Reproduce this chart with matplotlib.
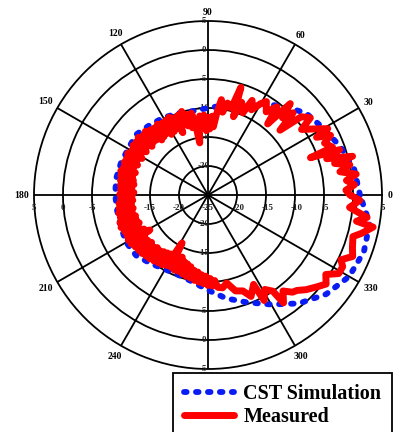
import numpy as np
import matplotlib
matplotlib.use("Agg")
import matplotlib.pyplot as plt

plt.rcParams["font.family"] = ["Liberation Serif", "DejaVu Serif"]

# CST simulated pattern (deg, dB)
cst_theta = [0, 10, 20, 30, 40, 50, 60, 70, 80, 90, 100, 110, 120, 130, 140, 150,
             160, 170, 180, 190, 200, 210, 220, 230, 240, 250, 260, 270, 280, 290,
             300, 310, 320, 330, 340, 350, 360]
cst_db = [1.2, 0.6, -0.7, -2.0, -3.0, -5.0, -6.8, -8.0, -9.3, -10.0, -10.3, -10.0,
          -9.6, -9.3, -8.8, -9.1, -9.0, -8.9, -9.0, -9.1, -9.0, -8.7, -8.8, -9.6,
          -10.2, -10.3, -9.8, -8.6, -6.9, -5.3, -3.2, -0.6, 1.6, 3.1, 3.6, 3.3, 1.2]

# measured pattern (deg, dB)
meas_theta = [
    0, 2, 4, 6, 8, 10, 12, 14, 15, 17, 19, 20, 21, 24, 26, 28, 29, 32, 35, 37,
    40, 42, 44, 46, 48, 50, 52, 55, 58, 60, 63, 65, 67, 70, 72, 73, 75, 78, 80,
    82, 84, 85.5, 87, 88.5, 90, 91.5, 93, 94.5, 96, 97.5, 99, 100, 101.5, 103,
    104.5, 106, 107.5, 109, 110.5, 112, 113.5, 115, 116.5, 118, 119.5, 121,
    122.5, 124, 125.5, 127, 128.5, 130, 131.5, 133, 134.5, 136, 137.5, 139,
    140.5, 142, 143.5, 145, 146.5, 148, 149.5, 151, 152.5, 154, 155.5, 157,
    158.5, 160, 161.5, 163, 164.5, 166, 167.5, 169, 170.5, 172, 173.5, 175,
    176.5, 178, 179.5, 181, 182.5, 184, 185.5, 187, 188.5, 190, 191.5, 193,
    194.5, 196, 197.5, 199, 200.5, 202, 203.5, 205, 206.5, 208, 209.5, 211,
    212.5, 214, 215.5, 217, 218.5, 220, 221.5, 223, 224.5, 226, 227.5, 229,
    230.5, 232, 233.5, 235, 236.5, 238, 239.5, 241.6, 243, 244.5, 246, 247.5,
    249, 250.5, 252, 253.5, 255, 256.5, 258, 259.5, 261, 262.5, 264, 265.5,
    267, 268.5, 270, 271.5, 273, 274.5, 276, 279, 282, 286, 290, 293, 297, 298,
    301, 304, 305, 308, 311, 313, 316, 320, 323, 326, 329, 332, 334, 337, 340,
    344, 346, 349, 350, 352, 355, 358, 360]
meas_db = [
    -0.5, -1.2, 0.3, -1.0, 0.8, -1.9, 0.0, -2.5, 0.8, -3.6, -1.0, -6.2, -2.0,
    -3.0, -1.5, -3.8, -1.4, -3.5, -5.3, -2.9, -4.0, -8.3, -4.6, -6.5, -3.8,
    -9.0, -5.7, -7.5, -6.0, -6.8, -8.5, -7.0, -9.6, -8.0, -10.8, -5.6, -9.5,
    -8.8, -10.5, -8.4, -11.0, -13.2, -11.4, -13.6, -11.6, -13.9, -11.2, -13.3,
    -11.3, -13.5, -15.9, -12.4, -10.6, -13.1, -10.7, -12.6, -9.9, -12.2, -10.3,
    -13.4, -10.5, -12.3, -10.0, -12.6, -10.2, -12.8, -10.3, -12.2, -10.0, -12.4,
    -10.2, -12.6, -10.0, -12.0, -9.6, -11.9, -9.8, -12.2, -9.4, -11.6, -9.6,
    -12.0, -9.5, -11.5, -9.8, -12.0, -9.4, -11.4, -9.6, -11.8, -9.5, -11.3,
    -9.7, -11.9, -9.4, -11.6, -9.6, -11.9, -9.7, -12.1, -9.8, -11.8, -9.9,
    -12.2, -9.8, -11.9, -9.9, -12.0, -9.6, -11.7, -9.5, -11.9, -9.3, -11.6,
    -9.4, -12.0, -9.1, -11.9, -9.0, -12.2, -9.3, -11.8, -9.4, -12.5, -9.2,
    -13.3, -9.3, -11.9, -9.6, -12.0, -9.7, -12.3, -9.8, -12.0, -10.0, -12.4,
    -10.1, -12.3, -10.3, -12.6, -10.5, -12.8, -10.6, -13.0, -10.9, -15.6,
    -11.0, -13.0, -10.8, -13.4, -10.9, -12.8, -10.7, -12.6, -10.5, -12.3,
    -10.4, -11.8, -10.1, -11.6, -9.9, -11.2, -9.7, -11.0, -9.4, -10.6, -9.3,
    -10.2, -9.0, -8.8, -9.5, -7.8, -7.4, -6.0, -7.7, -4.4, -6.0, -5.0, -2.3,
    -4.0, -2.8, -2.5, -1.5, -0.4, 0.5, -0.5, 1.3, 1.3, 0.5, 2.1, 1.5, 1.0, 2.3,
    4.0, 1.0, 2.7, -0.5, 1.2, -0.5]

ring_vals = [-20, -15, -10, -5, 0]
angle_ticks = list(range(0, 360, 30))
angle_labels = [str(a) for a in angle_ticks]

R_MIN, R_MAX = -25, 5
fig = plt.figure(figsize=(3.93, 4.32), dpi=100)
ax = fig.add_axes([0.0865, 0.1458, 0.8855, 0.8056], projection="polar")
ax.set_ylim(R_MIN, R_MAX)
ax.set_yticks(ring_vals)
ax.set_yticklabels([])
ax.set_thetagrids(angle_ticks, labels=[""] * len(angle_ticks))
ax.tick_params(axis="x", length=0)
ax.grid(True, color="black", lw=1.3)
ax.spines["polar"].set_linewidth(1.3)
ax.set_axisbelow(True)

# angle labels just outside the rim (pixel offsets -> data radius)
px_per_db = 174 / (R_MAX - R_MIN)
for a, s in zip(angle_ticks, angle_labels):
    t = np.deg2rad(a)
    off = 179 + 2.6 * len(s) * abs(np.cos(t)) + 3.5 * abs(np.sin(t))
    ax.text(t, R_MIN + off / px_per_db, s, ha="center", va="center",
            fontsize=7, fontweight="bold", clip_on=False)

# ring values written along both axes
lab_kw = dict(textcoords="offset points", ha="center", va="center",
              fontsize=6.5, fontweight="bold", color="#222222")
for v in ring_vals + [5]:
    for th in (0, 180):
        ax.annotate(str(v), xy=(np.deg2rad(th), v),
                    xytext=(1 if th == 0 else 0, -9), **lab_kw)
    for th in (90, 270):
        ax.annotate(str(v), xy=(np.deg2rad(th), v), xytext=(-3, 0), **lab_kw)
ax.annotate("-25", xy=(0, -25), xytext=(0, -9), **lab_kw)

ax.plot(np.deg2rad(cst_theta), cst_db, color="#0a1cf5", lw=4.2,
        linestyle=(0, (0.45, 1.6)), dash_capstyle="round", zorder=3,
        label="CST Simulation")
ax.plot(np.deg2rad(meas_theta), meas_db, color="#ff0000", lw=5,
        solid_joinstyle="round", solid_capstyle="round", zorder=4,
        label="Measured")

h, l = ax.get_legend_handles_labels()
leg = fig.legend(h, l, loc="upper left", bbox_to_anchor=(0.44, 0.1366),
                 borderaxespad=0, frameon=True, fancybox=False, framealpha=1,
                 edgecolor="black", handlelength=2.5, handletextpad=0.45,
                 labelspacing=0.15, borderpad=0.55,
                 prop={"weight": "bold", "size": 14.5})
leg.get_frame().set_linewidth(1.3)
leg.set_zorder(10)

fig.savefig("out.png", dpi=100)
